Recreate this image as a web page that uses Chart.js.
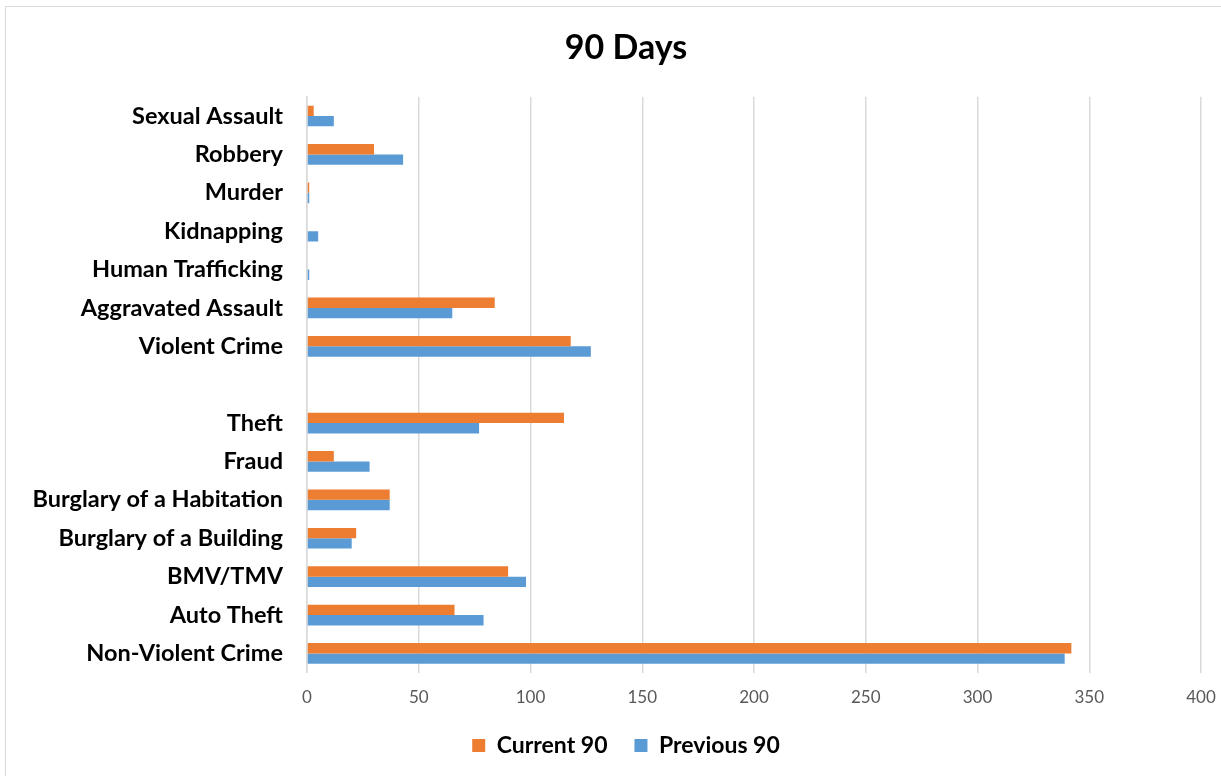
<!DOCTYPE html>
<html>
<head>
<meta charset="utf-8">
<title>90 Days</title>
<script src="https://cdn.jsdelivr.net/npm/chart.js@4/dist/chart.umd.min.js"></script>
<style>
  html, body { margin: 0; padding: 0; background: #fff; overflow: hidden; }
  #frame {
    position: absolute;
    left: 5px;
    top: 6px;
    width: 1240px;
    height: 790px;
    border: 1px solid #d9d9d9;
    background: #fff;
  }
  #chart { display: block; }
</style>
</head>
<body>
<div id="frame">
  <canvas id="chart" width="1240" height="760"></canvas>
</div>
<script>
// offense categories, top to bottom; the empty label spaces the two groups
const categories = [
  "Sexual Assault",
  "Robbery",
  "Murder",
  "Kidnapping",
  "Human Trafficking",
  "Aggravated Assault",
  "Violent Crime",
  "",
  "Theft",
  "Fraud",
  "Burglary of a Habitation",
  "Burglary of a Building",
  "BMV/TMV",
  "Auto Theft",
  "Non-Violent Crime",
];

const current90 = [3, 30, 1, 0, 0, 84, 118, null, 115, 12, 37, 22, 90, 66, 342];
const previous90 = [12, 43, 1, 5, 1, 65, 127, null, 77, 28, 37, 20, 98, 79, 339];

const xTicks = [0, 50, 100, 150, 200, 250, 300, 350, 400];

const FONT = "Lato, 'Open Sans', sans-serif";

const ctx = document.getElementById("chart");

new Chart(ctx, {
  type: "bar",
  data: {
    labels: categories,
    datasets: [
      {
        label: "Current 90",
        data: current90,
        backgroundColor: "#ed7d31",
        categoryPercentage: 0.54,
        barPercentage: 1.0,
      },
      {
        label: "Previous 90",
        data: previous90,
        backgroundColor: "#5b9bd5",
        categoryPercentage: 0.54,
        barPercentage: 1.0,
      },
    ],
  },
  options: {
    indexAxis: "y",
    responsive: false,
    animation: false,
    layout: { padding: 0 },
    plugins: {
      title: {
        display: true,
        text: "90 Days",
        color: "#000",
        font: { family: FONT, size: 34, weight: "bold" },
        padding: { top: 21, bottom: 28 },
      },
      legend: {
        position: "bottom",
        labels: {
          color: "#000",
          font: { family: FONT, size: 23, weight: "bold" },
          boxWidth: 13,
          boxHeight: 13,
          padding: 27,
        },
      },
      tooltip: { enabled: false },
    },
    scales: {
      x: {
        min: 0,
        max: 400,
        afterBuildTicks: (scale) => {
          scale.ticks = xTicks.map((v) => ({ value: v }));
        },
        // let the legend's top padding tuck under the tick labels
        afterFit: (scale) => {
          scale.height -= 16;
        },
        grid: { color: "#d9d9d9", lineWidth: 1.5, drawTicks: false },
        border: { display: false },
        ticks: {
          color: "#595959",
          font: { family: FONT, size: 17 },
          padding: 15,
        },
      },
      y: {
        grid: { display: false, drawTicks: false },
        border: { display: true, color: "#d9d9d9", width: 1.5 },
        afterFit: (scale) => {
          scale.width = 301;
        },
        ticks: {
          color: "#000",
          font: { family: FONT, size: 23.5, weight: "bold" },
          padding: 24,
          autoSkip: false,
        },
      },
      // empty right-hand margin so the title and legend stay centred on the frame
      spacer: {
        type: "linear",
        position: "right",
        grid: { display: false },
        border: { display: false },
        ticks: { display: false },
        afterFit: (scale) => {
          scale.width = 45;
        },
      },
    },
  },
});
</script>
</body>
</html>
